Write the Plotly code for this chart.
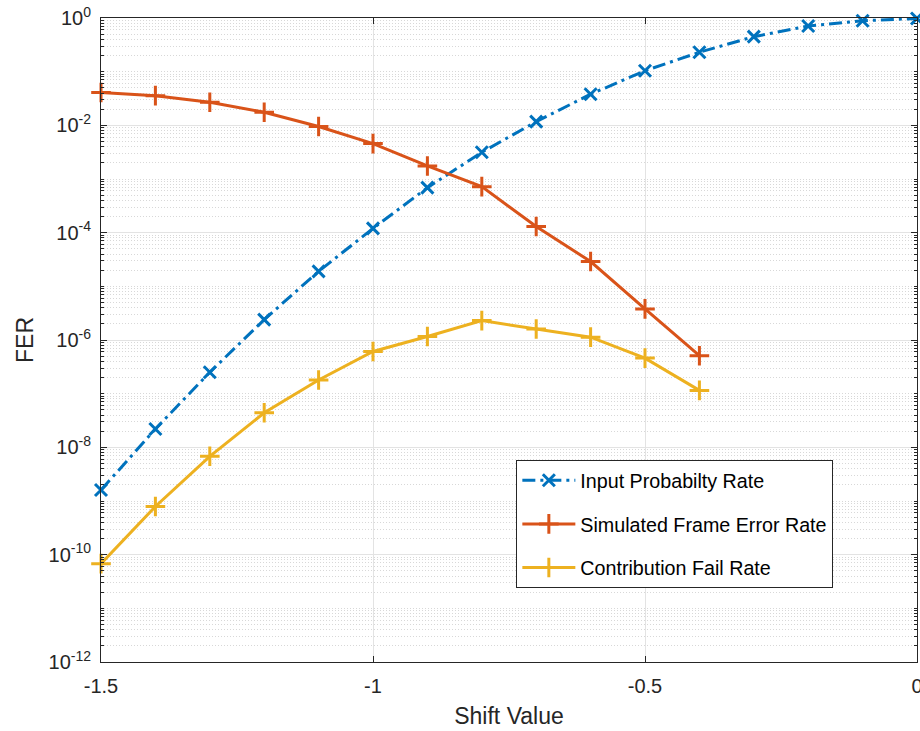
import plotly.graph_objects as go

shift = [-1.5, -1.4, -1.3, -1.2, -1.1, -1.0, -0.9, -0.8, -0.7, -0.6, -0.5, -0.4, -0.3, -0.2, -0.1, 0.0]
input_prob = [1.6e-9, 2.2e-8, 2.5e-7, 2.4e-6, 1.9e-5, 1.2e-4, 6.9e-4, 3.15e-3, 1.17e-2, 3.8e-2,
              0.104, 0.23, 0.449, 0.71, 0.89, 0.98]
shift_sim = [-1.5, -1.4, -1.3, -1.2, -1.1, -1.0, -0.9, -0.8, -0.7, -0.6, -0.5, -0.4]
sim_fer = [4.1e-2, 3.57e-2, 2.7e-2, 1.75e-2, 9.5e-3, 4.57e-3, 1.75e-3, 7.2e-4, 1.3e-4, 2.9e-5, 3.8e-6, 5.1e-7]
contrib_fail = [6.8e-11, 7.9e-10, 6.8e-9, 4.4e-8, 1.8e-7, 6.1e-7, 1.16e-6, 2.3e-6, 1.6e-6, 1.13e-6, 4.6e-7, 1.15e-7]

names = ["Input Probabilty Rate", "Simulated Frame Error Rate", "Contribution Fail Rate"]
colors = ["#0072BD", "#D95319", "#EDB120"]

y_major_exp = [-12, -10, -8, -6, -4, -2, 0]
x_ticks = [-1.5, -1.0, -0.5, 0.0]
x_ticklabels = ["-1.5", "-1", "-0.5", "0"]

y_major = [10.0 ** e for e in y_major_exp]
y_major_text = ["10<sup>%d</sup>" % e for e in y_major_exp]
y_minor = []
for d in range(-12, 0):
    for k in range(1, 10):
        if k == 1 and d % 2 == 0:
            continue
        y_minor.append(k * 10.0 ** d)

fig = go.Figure()
fig.add_trace(go.Scatter(
    x=shift, y=input_prob, name=names[0], mode="lines+markers", legendgroup="a",
    line=dict(color=colors[0], width=3, dash="13px,5px,3px,5px"),
    marker=dict(symbol="x-thin-open", size=12, color=colors[0], line=dict(width=3, color=colors[0])),
    cliponaxis=False))
fig.add_trace(go.Scatter(
    x=shift_sim, y=sim_fer, name=names[1], mode="lines+markers", legendgroup="b",
    line=dict(color=colors[1], width=3),
    marker=dict(symbol="cross-thin-open", size=14, color=colors[1], line=dict(width=3, color=colors[1])),
    cliponaxis=False))
fig.add_trace(go.Scatter(
    x=shift_sim, y=contrib_fail, name=names[2], mode="lines+markers", legendgroup="c",
    line=dict(color=colors[2], width=3),
    marker=dict(symbol="cross-thin-open", size=14, color=colors[2], line=dict(width=3, color=colors[2])),
    cliponaxis=False))

axis_color = "#262626"
fig.update_layout(
    width=920, height=731,
    margin=dict(l=101, r=3, t=18, b=69),
    paper_bgcolor="white", plot_bgcolor="white",
    font=dict(family="Liberation Sans, Arial, sans-serif", color=axis_color, size=20),
    showlegend=True,
    legend=dict(
        x=0.509, y=0.3137, xanchor="left", yanchor="top",
        bordercolor=axis_color, borderwidth=1, bgcolor="white",
        font=dict(size=19.7, color="#000000"),
        tracegroupgap=15, itemwidth=53,
    ),
    xaxis=dict(
        range=[-1.5, 0], tickmode="array", tickvals=x_ticks, ticktext=x_ticklabels,
        ticks="inside", ticklen=6, tickcolor=axis_color, automargin=False,
        ticklabeloverflow="allow",
        showline=True, linecolor=axis_color, linewidth=1, mirror="ticks",
        showgrid=True, gridcolor="#e3e3e3", gridwidth=1, zeroline=False,
        ticklabelstandoff=6,
        title=dict(text="Shift Value", font=dict(size=23), standoff=11),
    ),
    yaxis=dict(
        type="log", range=[-12, 0], tickmode="array", tickvals=y_major, ticktext=y_major_text,
        ticks="inside", ticklen=6, tickcolor=axis_color, automargin=False,
        ticklabeloverflow="allow",
        showline=True, linecolor=axis_color, linewidth=1, mirror="ticks",
        showgrid=True, gridcolor="#e3e3e3", gridwidth=1, zeroline=False,
        ticklabelstandoff=5,
        minor=dict(tickmode="array", tickvals=y_minor, ticks="inside", ticklen=3,
                   tickcolor=axis_color, showgrid=True, gridcolor="#d8d8d8",
                   gridwidth=1, griddash="1px,2px"),
        title=dict(text="FER", font=dict(size=23), standoff=8),
    ),
)

fig.write_html(
    "out.html",
    config={"displayModeBar": False},
    post_script="document.body.style.margin='0';document.body.style.overflow='hidden';",
)
